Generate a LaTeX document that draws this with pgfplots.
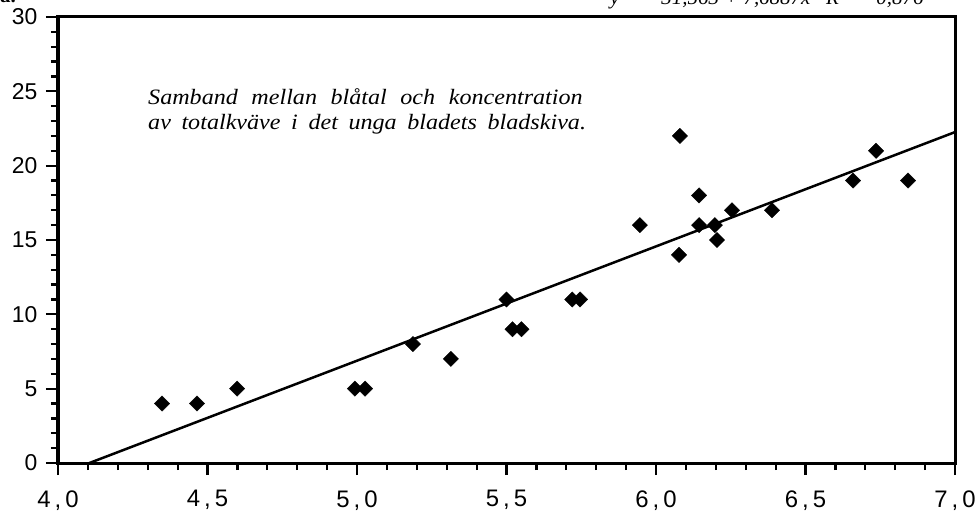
\documentclass[border=0pt]{standalone}
\usepackage{fontspec}
\setmainfont{Liberation Serif}
\newfontfamily\sansf{Liberation Sans}
\usepackage{pgfplots}
\pgfplotsset{compat=1.18}
\usetikzlibrary{calc}
\newcommand{\xl}[2]{#1\hspace{4bp},\hspace{4bp}#2}
\newcommand{\annot}[2]{\scalebox{1.10}[1]{\hbox to #1{\spaceskip=0.3em plus 1fil\relax #2}}}
\begin{document}
\begin{tikzpicture}
\begin{axis}[
  scale only axis, width=897bp, height=446bp,
  xmin=4, xmax=7, ymin=0, ymax=30,
  axis line style={line width=3bp},
  tick style={line width=2.2bp, black},
  tick align=outside,
  major tick length=12bp, minor tick length=7bp,
  xtick={4,4.5,5,5.5,6,6.5,7}, minor x tick num=4,
  ytick={0,5,10,15,20,25,30}, minor y tick num=4,
  xtick pos=bottom, ytick pos=left,
  xticklabels={{\xl{4}{0}},{\xl{4}{5}},{\xl{5}{0}},{\xl{5}{5}},{\xl{6}{0}},{\xl{6}{5}},{\xl{7}{0}}},
  xticklabel style={font=\sansf\fontsize{24}{24}\selectfont, yshift=-12bp},
  yticklabel style={font=\sansf\fontsize{23}{23}\selectfont, xshift=-5bp},
  /pgf/number format/assume math mode=true,
  clip=false,
]
\coordinate (ll) at (rel axis cs:0,0);
\addplot[black, line width=2.5bp] coordinates {(4.1051,0) (7,22.258)};
\addplot[only marks, mark=square*, mark size=5.4bp, mark options={rotate=45, fill=black, draw=black}] coordinates {
(4.348,4) (4.465,4) (4.599,5)
(4.993,5) (5.027,5)
(5.187,8) (5.314,7) (5.50,11) (5.52,9) (5.55,9) (5.72,11) (5.746,11)
(5.946,16) (6.08,22) (6.077,14) (6.144,18) (6.144,16) (6.197,16) (6.204,15)
(6.254,17) (6.388,17) (6.659,19) (6.736,21) (6.843,19)
};
\node[anchor=base west, inner sep=0pt, font=\itshape\fontsize{22}{22}\selectfont] at (axis cs:4.301,24.14) {\annot{395bp}{Samband mellan blåtal och koncentration}};
\node[anchor=base west, inner sep=0pt, font=\itshape\fontsize{22}{22}\selectfont] at (axis cs:4.301,22.46) {\annot{398bp}{av totalkväve i det unga bladets bladskiva.}};
\node[anchor=base west, inner sep=0pt, font=\itshape\fontsize{21}{21}\selectfont] at (axis cs:5.846,30.87) {y \ = \ -31,563 + 7,6887x \ \ R\textsuperscript{2} = \ 0,876};
\node[anchor=base west, inner sep=0pt, font=\bfseries\fontsize{21}{21}\selectfont] at (axis cs:3.806,31.0) {a.};
\end{axis}
\pgfresetboundingbox
\path[use as bounding box] ($(ll)+(-58bp,-48bp)$) rectangle ($(ll)+(918bp,463bp)$);
\end{tikzpicture}
\end{document}
